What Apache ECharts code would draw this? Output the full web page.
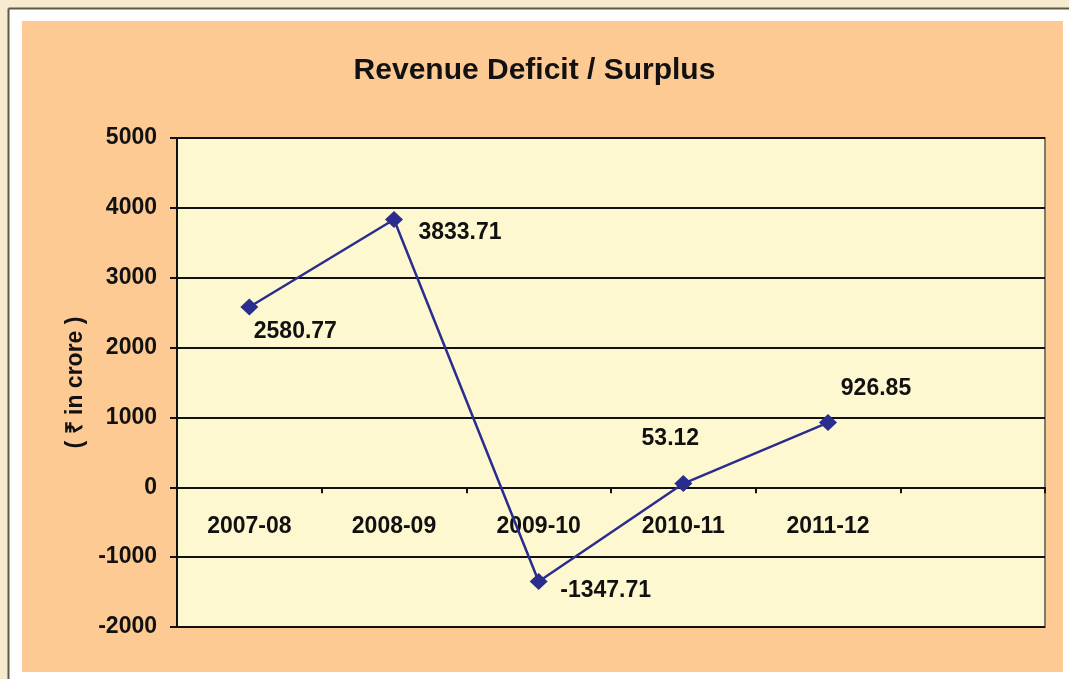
<!DOCTYPE html>
<html>
<head>
<meta charset="utf-8">
<script src="https://cdn.jsdelivr.net/npm/echarts@6/dist/echarts.min.js"></script>
<style>
html,body{margin:0;padding:0;background:#fff;}
#chart{width:1069px;height:679px;}
</style>
</head>
<body>
<div id="chart"></div>
<script>
// ---- data ----
var categories = ['2007-08', '2008-09', '2009-10', '2010-11', '2011-12', ''];
var values = [2580.77, 3833.71, -1347.71, 53.12, 926.85];
var labelTexts = ['2580.77', '3833.71', '-1347.71', '53.12', '926.85'];
var yTicks = { min: -2000, max: 5000, interval: 1000 };

// label placement (pixel offsets from each marker centre)
var labelOffsets = [[46, 25], [66, 13], [67, 9], [-13, -45], [48, -34]];

var FONT = '"Liberation Sans", Arial, sans-serif';
var chart = echarts.init(document.getElementById('chart'), null, {renderer: 'canvas'});

var seriesData = values.map(function (v, i) {
  return {
    value: v,
    label: {
      show: true,
      position: 'inside',
      offset: labelOffsets[i],
      formatter: labelTexts[i]
    }
  };
});

var option = {
  backgroundColor: '#fdca94',
  animation: false,
  graphic: [
    {type: 'rect', shape: {x: 0, y: 0, width: 1069, height: 8}, style: {fill: '#f6ebcf'}},
    {type: 'rect', shape: {x: 0, y: 0, width: 8, height: 679}, style: {fill: '#f6ebcf'}},
    {type: 'rect', shape: {x: 9, y: 9, width: 1060, height: 12}, style: {fill: '#ffffff'}},
    {type: 'rect', shape: {x: 9, y: 9, width: 13, height: 670}, style: {fill: '#ffffff'}},
    {type: 'rect', shape: {x: 1063, y: 9, width: 6, height: 670}, style: {fill: '#ffffff'}},
    {type: 'rect', shape: {x: 9, y: 672, width: 1060, height: 7}, style: {fill: '#ffffff'}},
    {type: 'line', shape: {x1: 8.5, y1: 8.5, x2: 1069, y2: 8.5}, style: {stroke: '#5a5a4a', lineWidth: 2}},
    {type: 'line', shape: {x1: 8.5, y1: 8.5, x2: 8.5, y2: 679}, style: {stroke: '#5a5a4a', lineWidth: 2}}
  ],
  title: {
    text: 'Revenue Deficit / Surplus',
    left: 'center',
    top: 51,
    textStyle: {fontFamily: FONT, fontSize: 30, fontWeight: 'bold', color: '#111'}
  },
  grid: {
    left: 177, top: 138, right: 24, bottom: 52,
    show: true,
    backgroundColor: '#fdf8cf',
    borderColor: '#7a7a70',
    borderWidth: 2
  },
  xAxis: {
    type: 'category',
    data: categories,
    boundaryGap: true,
    axisLine: {show: true, onZero: true, lineStyle: {color: '#111', width: 2}},
    axisTick: {show: true, length: 6, lineStyle: {color: '#111', width: 2}},
    axisLabel: {margin: -112, fontFamily: FONT, fontSize: 23, fontWeight: 'bold', color: '#111', interval: 0},
    splitLine: {show: false}
  },
  yAxis: {
    type: 'value',
    min: yTicks.min,
    max: yTicks.max,
    interval: yTicks.interval,
    name: '( \u20b9 in crore )',
    nameLocation: 'middle',
    nameGap: 89,
    nameTextStyle: {fontFamily: FONT, fontSize: 23, fontWeight: 'bold', color: '#111'},
    axisLine: {show: true, lineStyle: {color: '#111', width: 2}},
    axisTick: {show: true, length: 7, lineStyle: {color: '#111', width: 2}},
    axisLabel: {margin: 20, fontFamily: FONT, fontSize: 23, fontWeight: 'bold', color: '#111',
      formatter: function (v) { return String(v); }},
    splitLine: {show: true, lineStyle: {color: '#111', width: 2}}
  },
  series: [{
    type: 'line',
    data: seriesData,
    symbol: 'diamond',
    symbolSize: [18, 17],
    lineStyle: {color: '#2b2d8e', width: 2.5},
    itemStyle: {color: '#2b2d8e'},
    label: {fontFamily: FONT, fontSize: 23, fontWeight: 'bold', color: '#111'},
    z: 5
  }]
};
chart.setOption(option);
</script>
</body>
</html>
